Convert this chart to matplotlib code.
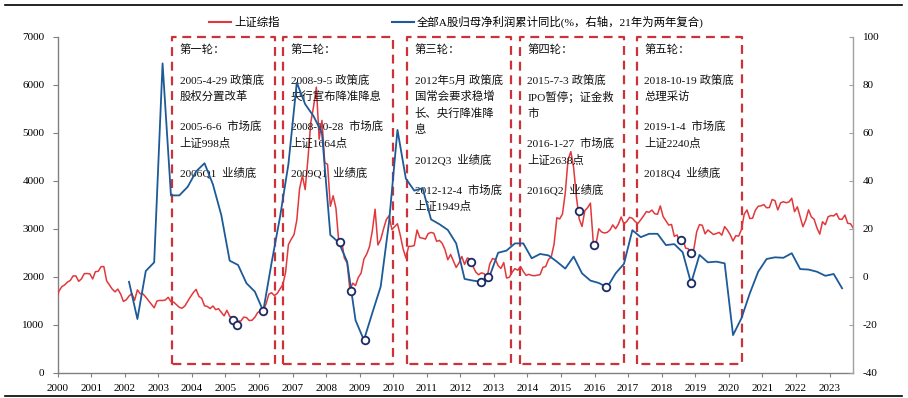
import matplotlib
matplotlib.use("Agg")
import matplotlib.pyplot as plt
from matplotlib.lines import Line2D

plt.rcParams['axes.unicode_minus'] = False
FONT = ['Liberation Serif', 'Noto Sans CJK SC', 'DejaVu Sans']
plt.rcParams['font.family'] = FONT

# ---------------- data ----------------
red_start_year = 2000
# 上证综指 monthly, 2000-01 .. 2023-10
shcomp = [
    1535, 1714, 1800, 1836, 1894, 1928, 2023, 2022, 1910, 1961, 2070, 2073,
    2065, 1959, 2112, 2119, 2214, 2218, 1920, 1834, 1748, 1690, 1748, 1646,
    1491, 1525, 1603, 1656, 1515, 1732, 1651, 1647, 1581, 1507, 1436, 1358,
    1500, 1512, 1510, 1521, 1577, 1487, 1477, 1422, 1367, 1349, 1398, 1497,
    1590, 1675, 1742, 1595, 1555, 1400, 1386, 1342, 1396, 1320, 1340, 1267,
    1191, 1306, 1181, 1160, 1060, 1081, 1083, 1163, 1155, 1093, 1099, 1161,
    1258, 1299, 1299, 1440, 1642, 1672, 1612, 1658, 1753, 1838, 2099, 2675,
    2786, 2881, 3183, 3841, 4109, 3821, 4471, 5218, 5552, 5955, 4871, 5262,
    4383, 4348, 3473, 3693, 3433, 2736, 2776, 2397, 2293, 1729, 1871, 1821,
    1991, 2082, 2374, 2477, 2633, 2959, 3412, 2667, 2779, 2996, 3195, 3277,
    2989, 3051, 3110, 2871, 2592, 2398, 2638, 2639, 2656, 2979, 2820, 2808,
    2790, 2905, 2928, 2912, 2743, 2762, 2701, 2568, 2359, 2469, 2333, 2199,
    2292, 2428, 2262, 2397, 2373, 2225, 2103, 2047, 2086, 2069, 1980, 2269,
    2385, 2366, 2237, 2178, 2301, 1979, 1994, 2098, 2175, 2141, 2220, 2116,
    2033, 2056, 2033, 2026, 2039, 2048, 2202, 2217, 2364, 2420, 2683, 3235,
    3210, 3310, 3748, 4442, 4612, 4277, 3664, 3206, 3053, 3383, 3445, 3539,
    2738, 2688, 3004, 2938, 2917, 2930, 2979, 3085, 3005, 3100, 3250, 3104,
    3159, 3242, 3223, 3155, 3117, 3192, 3273, 3361, 3349, 3393, 3317, 3307,
    3481, 3259, 3169, 3082, 3095, 2847, 2876, 2725, 2821, 2603, 2588, 2494,
    2585, 2941, 3091, 3078, 2899, 2979, 2933, 2886, 2905, 2929, 2872, 3050,
    2977, 2880, 2750, 2860, 2852, 2985, 3310, 3396, 3218, 3225, 3392, 3473,
    3483, 3509, 3442, 3447, 3615, 3591, 3397, 3544, 3568, 3547, 3564, 3640,
    3361, 3462, 3252, 3047, 3186, 3399, 3253, 3202, 3024, 2893, 3151, 3089,
    3255, 3280, 3273, 3323, 3205, 3202, 3291, 3119, 3110, 3019,
]

blue_start_year = 2002
# 全部A股归母净利润累计同比 (%), quarterly 2002Q1 .. 2023Q2
profit_yoy = [
    -2.0, -17.5, 2.5, 6.1,
    89.0, 34.0, 34.0, 37.6,
    44.0, 47.4, 38.6, 25.8,
    6.8, 5.0, -2.6, -6.1,
    -14.2, 6.0, 25.0, 47.0,
    81.0, 72.0, 67.0, 60.0,
    17.5, 14.4, 6.4, -18.0,
    -26.3, -15.0, -4.0, 23.0,
    61.3, 41.0, 36.0, 37.0,
    24.0, 22.0, 19.6, 14.0,
    -0.8, -1.5, -2.0, 0.5,
    10.1, 11.0, 14.0, 14.0,
    7.8, 9.6, 9.0, 6.4,
    3.5, 8.5, 1.5, -1.5,
    -2.5, -4.3, 1.5, 5.5,
    19.5, 16.6, 18.0, 18.0,
    13.3, 13.7, 10.3, -2.6,
    9.2, 6.1, 6.4, 5.7,
    -24.2, -17.2, -6.8, 2.2,
    7.5, 8.2, 8.0, 9.9,
    3.3, 3.1, 2.2, 0.5,
    1.25, -4.7,
]

# marked bottoms (x in years, y on right axis)
circle_x = [2005.22, 2005.34, 2006.12, 2008.41, 2008.75, 2009.16, 2012.31, 2012.62,
            2012.81, 2015.54, 2015.99, 2016.34, 2018.57, 2018.88, 2018.86]
circle_y = [-17.9, -20.0, -14.2, 14.4, -5.7, -26.3, 6.4, -2.0,
            0.1, 27.6, 13.3, -4.3, 15.4, 10.1, -2.6]

# rounds: box x-range (years)
box_x0 = [2003.41, 2006.72, 2010.41, 2013.77, 2017.26]
box_x1 = [2006.48, 2010.00, 2013.51, 2016.88, 2020.38]
box_texts = [
    [["第一轮："], ["2005-4-29 政策底", "股权分置改革"], ["2005-6-6  市场底", "上证998点"],
     ["2006Q1  业绩底"]],
    [["第二轮："], ["2008-9-5 政策底", "央行宣布降准降息"], ["2008-10-28  市场底", "上证1664点"],
     ["2009Q1  业绩底"]],
    [["第三轮："], ["2012年5月 政策底", "国常会要求稳增", "长、央行降准降", "息"],
     ["2012Q3  业绩底"], ["2012-12-4  市场底", "上证1949点"]],
    [["第四轮："], ["2015-7-3 政策底", "IPO暂停；证金救", "市"],
     ["2016-1-27  市场底", "上证2638点"], ["2016Q2  业绩底"]],
    [["第五轮："], ["2018-10-19 政策底", "总理采访"], ["2019-1-4  市场底", "上证2240点"],
     ["2018Q4  业绩底"]],
]

years = list(range(2000, 2024))
left_ticks = list(range(0, 7001, 1000))
right_ticks = list(range(-40, 101, 20))

RED = '#E2383B'
BLUE = '#1D5A98'
BOX = '#CC3338'
NAVY = '#1B2A66'

# ---------------- figure ----------------
W, H = 908, 398
fig = plt.figure(figsize=(W / 100, H / 100), dpi=100)
L, R, T, B = 57.7, 853, 37, 373
ax = fig.add_axes([L / W, 1 - B / H, (R - L) / W, (B - T) / H])
ax2 = ax.twinx()

red_x = [red_start_year + (i - 0.5) / 12 for i in range(len(shcomp))]
blue_x = [blue_start_year + (i * 3 + 1.5) / 12 for i in range(len(profit_yoy))]

ax.plot(red_x, shcomp, color=RED, lw=1.1, zorder=3)
ax2.plot(blue_x, profit_yoy, color=BLUE, lw=1.3, zorder=3)
ax2.scatter(circle_x, circle_y, s=30, facecolor='white', edgecolor=NAVY, lw=1.3, zorder=6)

ax.set_xlim(2000, 2023.70)
ax.set_ylim(0, 7000)
ax2.set_ylim(-40, 100)

# boxes
for x0, x1 in zip(box_x0, box_x1):
    ax.plot([x0, x0, x1, x1, x0], [190, 7000, 7000, 190, 190], color=BOX, lw=1.6,
            dashes=(4, 2.6), zorder=2, clip_on=False)

# texts
for x0, groups in zip(box_x0, box_texts):
    ypx = 13.0
    first = True
    for g in groups:
        if not first:
            ypx += 30.0
        for j, line in enumerate(g):
            if j > 0:
                ypx += 16.6
            ax.annotate(line, xy=(x0, 7000), xytext=(7.6 * 0.72, -ypx * 0.72),
                        textcoords='offset points', ha='left', va='center',
                        fontsize=8.2, family=FONT, color='#111111', zorder=4)
        first = False

# axes styling
ax.set_xticks(years)
ax.set_xticklabels([str(y) for y in years], fontsize=8)
ax.set_yticks(left_ticks)
ax.set_yticklabels([str(v) for v in left_ticks], fontsize=8)
ax2.set_yticks(right_ticks)
ax2.set_yticklabels([str(v) for v in right_ticks], fontsize=8)
ax.tick_params(axis='x', direction='out', length=3, pad=5, color='#808080')
ax.tick_params(axis='y', direction='out', length=3.5, pad=6, color='#808080')
ax2.tick_params(axis='y', direction='in', length=3, pad=7, color='#a0a0a0')
for a in (ax, ax2):
    a.spines['top'].set_visible(False)
ax.spines['left'].set_color('#808080')
ax.spines['bottom'].set_color('#808080')
ax.spines['right'].set_visible(False)
ax2.spines['left'].set_visible(False)
ax2.spines['bottom'].set_visible(False)
ax2.spines['right'].set_color('#a0a0a0')
for a in (ax, ax2):
    for s in a.spines.values():
        s.set_linewidth(1.0)

# legends
h1 = Line2D([], [], color=RED, lw=1.5)
h2 = Line2D([], [], color=BLUE, lw=1.5)
ly = 1 - 22 / H
fig.legend([h1], ['上证综指'], loc='center left', bbox_to_anchor=(209 / W, ly),
           frameon=False, borderpad=0, borderaxespad=0, handlelength=1.9,
           handletextpad=0.3, prop={'family': FONT, 'size': 8.2})
fig.legend([h2], ['全部A股归母净利润累计同比(%，右轴，21年为两年复合)'], loc='center left',
           bbox_to_anchor=(392 / W, ly), frameon=False, borderpad=0, borderaxespad=0,
           handlelength=1.9, handletextpad=0.3, prop={'family': FONT, 'size': 8.2})

# top & bottom rules
fig.add_artist(Line2D([5 / W, 902 / W], [1 - 5 / H, 1 - 5 / H], color='black', lw=1.2))
fig.add_artist(Line2D([5 / W, 902 / W], [1 - 396 / H, 1 - 396 / H], color='black', lw=1.2))

fig.savefig('out.png', dpi=100)
